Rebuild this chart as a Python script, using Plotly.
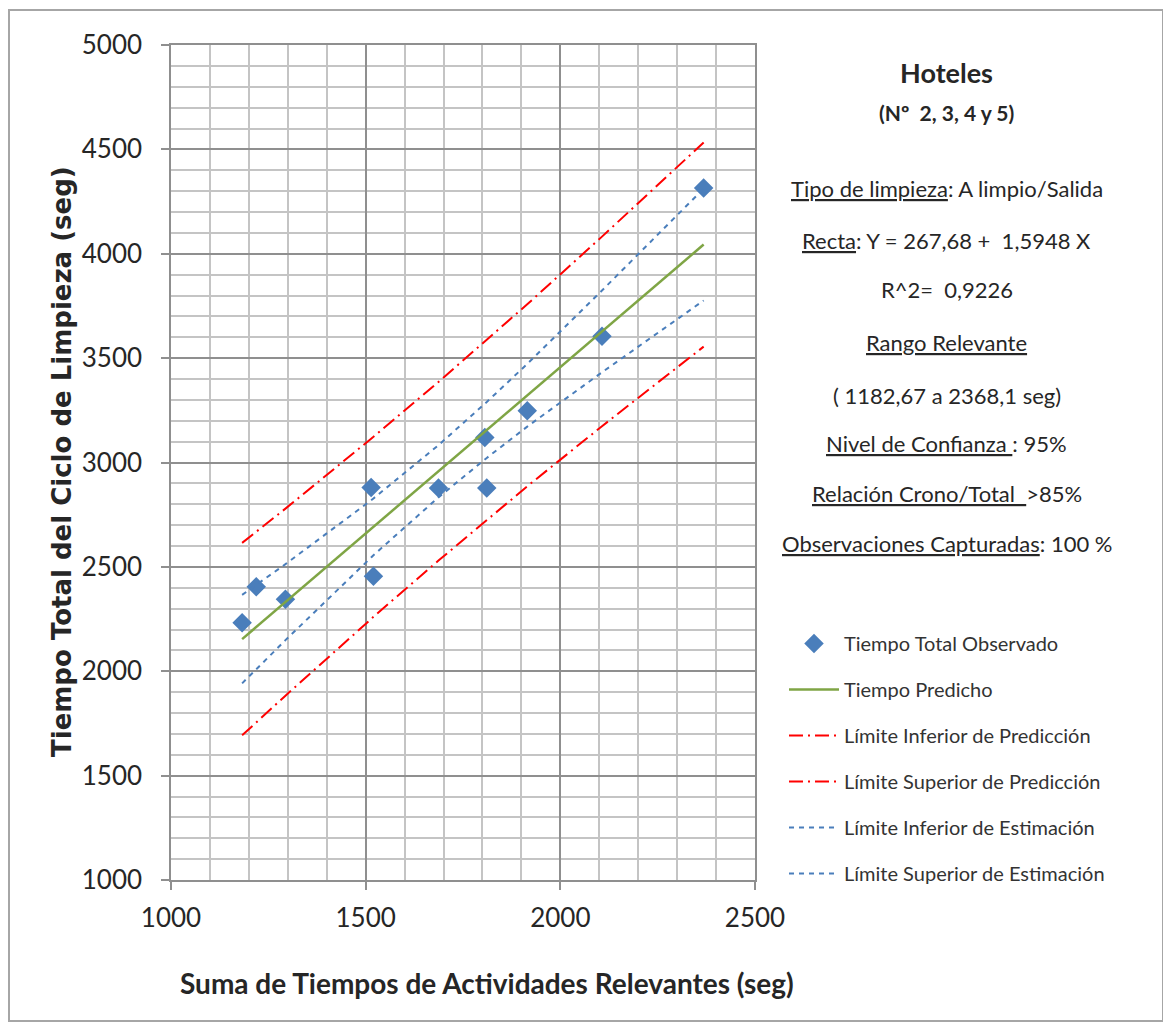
import plotly.graph_objects as go

# ---------------- data ----------------
x_obs = [1182.67, 1219, 1294, 1514, 1520, 1687, 1806, 1811, 1915, 2107, 2368.1]
y_obs = [2232, 2405, 2345, 2880, 2455, 2878, 3120, 2878, 3248, 3605, 4315]

x_line = [1182.67, 1219, 1294, 1514, 1520, 1687, 1806, 1811, 1915, 2107, 2368.1]
y_pred = [2154, 2212, 2331, 2682, 2692, 2958, 3148, 3156, 3322, 3628, 4044]
y_pred_low = [1693, 1755, 1883, 2250, 2261, 2530, 2718, 2725, 2886, 3174, 3555]
y_pred_up = [2615, 2668, 2779, 3114, 3123, 3386, 3578, 3587, 3758, 4082, 4533]
y_est_low = [1942, 2010, 2149, 2545, 2556, 2833, 3015, 3022, 3172, 3432, 3776]
y_est_up = [2366, 2414, 2513, 2819, 2828, 3083, 3281, 3290, 3472, 3824, 4312]

x_ticks = [1000, 1500, 2000, 2500]
y_ticks = [1000, 1500, 2000, 2500, 3000, 3500, 4000, 4500, 5000]

names = ["Tiempo Total Observado", "Tiempo Predicho",
         "Límite Inferior de Predicción", "Límite Superior de Predicción",
         "Límite Inferior de Estimación", "Límite Superior de Estimación"]

info_lines = [
    "<u>Tipo de limpieza</u>: A limpio/Salida",
    "<u>Recta</u>: Y = 267,68 +  1,5948 X",
    "R^2=  0,9226",
    "<u>Rango Relevante</u>",
    "( 1182,67 a 2368,1 seg)",
    "<u>Nivel de Confianza </u>: 95%",
    "<u>Relación Crono/Total  </u>>85%",
    "<u>Observaciones Capturadas</u>: 100 %",
]

# ---------------- layout constants ----------------
OFF = 8  # page body margin
W, H = 1163, 1022
def px(x):
    return (x - OFF) / W
def py(y):
    return 1 - (y - OFF) / H

BLUE = "#4A7EBB"
GREEN = "#7FA545"
RED = "#FF0000"
FONT = "Lato, 'Open Sans', sans-serif"
TXT = "#262626"

fig = go.Figure()
fig.add_trace(go.Scatter(x=x_obs, y=y_obs, mode="markers", name=names[0],
                         legendgroup="a",
                         marker=dict(symbol="diamond", size=15, color=BLUE)))
fig.add_trace(go.Scatter(x=x_line, y=y_pred, mode="lines", name=names[1],
                         legendgroup="b",
                         line=dict(color=GREEN, width=2.5)))
fig.add_trace(go.Scatter(x=x_line, y=y_pred_low, mode="lines", name=names[2],
                         legendgroup="c",
                         line=dict(color=RED, width=2, dash="14px,5px,2px,5px")))
fig.add_trace(go.Scatter(x=x_line, y=y_pred_up, mode="lines", name=names[3],
                         legendgroup="d",
                         line=dict(color=RED, width=2, dash="14px,5px,2px,5px")))
fig.add_trace(go.Scatter(x=x_line, y=y_est_low, mode="lines", name=names[4],
                         legendgroup="e",
                         line=dict(color=BLUE, width=2, dash="5px,5px")))
fig.add_trace(go.Scatter(x=x_line, y=y_est_up, mode="lines", name=names[5],
                         legendgroup="f",
                         line=dict(color=BLUE, width=2, dash="5px,5px")))

axis_common = dict(
    showgrid=True, gridcolor="#8f8f8f", gridwidth=1.5,
    showline=True, linecolor="#8f8f8f", linewidth=1.5, mirror=True,
    ticks="outside", ticklen=8, tickcolor="#8f8f8f", tickwidth=1.5,
    tickfont=dict(family=FONT, size=26, color=TXT),
    zeroline=False, automargin=False,
    minor=dict(dtick=100, showgrid=True, gridcolor="#c4c4c4", gridwidth=1.5, ticks=""),
)

fig.update_layout(
    width=W, height=H,
    margin=dict(l=0, r=0, t=0, b=0),
    paper_bgcolor="white", plot_bgcolor="white",
    xaxis=dict(range=[1000, 2500], domain=[px(171), px(755)], tickvals=x_ticks,
               ticklabelstandoff=6, **axis_common),
    yaxis=dict(range=[1000, 5000], domain=[py(880), py(45)], tickvals=y_ticks,
               ticklabelstandoff=14, **axis_common),
    showlegend=True,
    legend=dict(x=px(784), y=py(624), xanchor="left", yanchor="top",
                font=dict(family=FONT, size=20, color="#333333"),
                tracegroupgap=17, bgcolor="rgba(0,0,0,0)", itemwidth=50),
)

annotations = []
annotations.append(dict(text="<b>Tiempo Total del Ciclo de Limpieza (seg)</b>",
                        x=px(62), y=py(462), xref="paper", yref="paper",
                        xanchor="center", yanchor="middle",
                        showarrow=False, textangle=-90,
                        font=dict(family="DejaVu Sans", size=26, color=TXT)))
annotations.append(dict(text="<b>Suma de Tiempos de Actividades Relevantes (seg)</b>",
                        x=px(487), y=py(983), xref="paper", yref="paper",
                        xanchor="center", yanchor="middle",
                        showarrow=False,
                        font=dict(family=FONT, size=28, color=TXT)))
annotations.append(dict(text="<b>Hoteles</b>", x=px(947), y=py(73),
                        xref="paper", yref="paper", showarrow=False,
                        xanchor="center", yanchor="middle",
                        font=dict(family=FONT, size=27, color=TXT)))
annotations.append(dict(text="<b>(Nº  2, 3, 4 y 5)</b>", x=px(947), y=py(112),
                        xref="paper", yref="paper", showarrow=False,
                        xanchor="center", yanchor="middle",
                        font=dict(family=FONT, size=21, color=TXT)))
info_y = [188, 240, 290, 342, 395, 443, 493, 543]
for t, yy in zip(info_lines, info_y):
    annotations.append(dict(text=t, x=px(947), y=py(yy), xref="paper", yref="paper",
                            showarrow=False, xanchor="center", yanchor="middle",
                            font=dict(family=FONT, size=22, color=TXT)))
fig.update_layout(annotations=annotations)

fig.add_shape(type="rect", xref="paper", yref="paper",
              x0=px(9), x1=px(1163), y0=py(1021), y1=py(10),
              line=dict(color="#a6a6a6", width=2), layer="below")

fig.write_html("out.html")
